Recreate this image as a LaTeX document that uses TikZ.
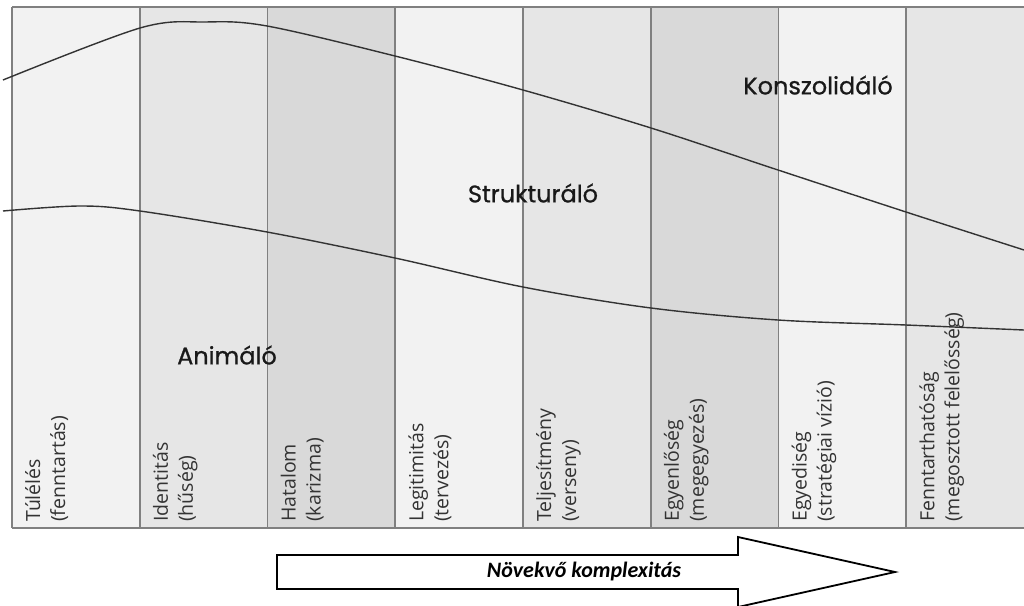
\documentclass[tikz,border=0pt]{standalone}
\usepackage{fontspec}
\setmainfont{Open Sans}
\newfontfamily\stagefont[FakeBold=0.8]{Poppins}
\newfontfamily\arrowfont{Carlito}
\usetikzlibrary{positioning}
\definecolor{lightcol}{HTML}{F2F2F2}
\definecolor{midcol}{HTML}{E6E6E6}
\definecolor{darkcol}{HTML}{D9D9D9}
\definecolor{rulegray}{HTML}{808080}
\definecolor{curvegray}{HTML}{333333}

\begin{document}
\begin{tikzpicture}[x=1pt, y=-1pt,
  divider/.style={draw=rulegray, line width=1.6pt},
  wave/.style={draw=curvegray, line width=1.4pt},
  coltext/.style={rotate=90, anchor=north west, inner sep=0pt, align=left,
    font=\fontsize{19.5}{25}\selectfont, text=black!80},
  stage/.style={font=\stagefont\fontsize{24}{26}\selectfont, text=black!90},
  bigarrow/.style={draw=black, line width=1.8pt, fill=white, line join=miter}]
  \useasboundingbox (0,0) rectangle (1024,605);
  \clip (0,0) rectangle (1024,605);
  % columns
  \foreach \i/\shade in {0/lightcol,1/midcol,2/darkcol,3/lightcol,4/midcol,5/darkcol,6/lightcol,7/midcol}
    \fill[\shade] ({12+127.75*\i},7) rectangle ({12+127.75*(\i+1)},528);
  \foreach \i in {0,...,8}
    \draw[divider] ({12+127.75*\i},7) -- ({12+127.75*\i},528);
  \draw[divider] (12,7) -- (1030,7);
  \draw[divider] (12,528) -- (1030,528);
  % phase curves
  \draw[wave] plot[smooth, tension=0.55] coordinates
    {(3,80) (140,28) (205,22) (267,26) (395,56) (523,90) (651,128) (778,170) (906,212) (1024,250)};
  \draw[wave] plot[smooth, tension=0.55] coordinates
    {(3,211) (80,206) (140,211) (267,232) (395,258) (523,287) (651,308) (778,320) (906,325) (1024,330)};
  % column labels
  \foreach \i/\first/\second in {0/Túlélés/(fenntartás), 1/Identitás/(hűség),
      2/Hatalom/(karizma), 3/Legitimitás/(tervezés), 4/Teljesítmény/(verseny),
      5/Egyenlőség/(megegyezés), 6/Egyediség/(stratégiai vízió),
      7/Fenntarthatóság/(megosztott felelősség)}
    \node[coltext] (lab\i) at ({12+127.75*\i+13},522) {\first\\\second};
  % stages
  \node[stage] (animalo) at (227,355) {Animáló};
  \node[stage] (strukt) at (533,193) {Strukturáló};
  \node[stage] (konsz) at (818,85) {Konszolidáló};
  % complexity arrow
  \draw[bigarrow] (277,555) -- (738,555) -- (738,537) -- (895,572) -- (738,607)
    -- (738,589) -- (277,589) -- cycle;
  \node[font=\arrowfont\bfseries\itshape\fontsize{22}{24}\selectfont] (growth) at (584,572) {Növekvő komplexitás};
\end{tikzpicture}
\end{document}
